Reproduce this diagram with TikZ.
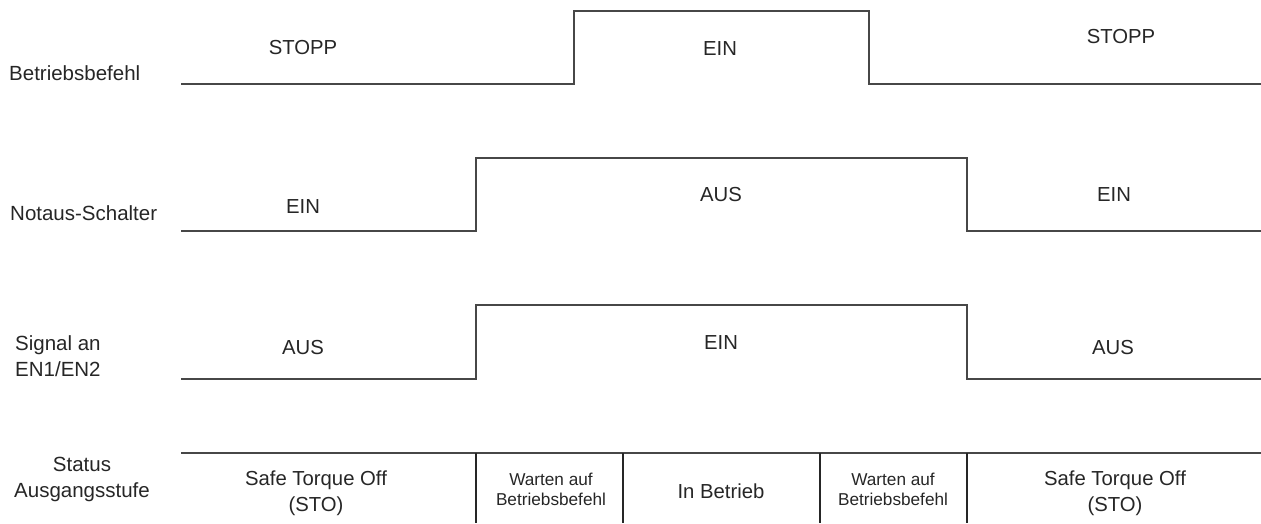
\documentclass[tikz,border=0pt]{standalone}
\usepackage{fontspec}
\setmainfont{Liberation Sans}
\begin{document}
\begin{tikzpicture}[x=1pt,y=-1pt,
  wave/.style={draw=black!72,line width=1.6pt},
  divider/.style={draw=black!85,line width=1.3pt},
  lbl/.style={inner sep=0pt,font=\fontsize{20.5}{26}\selectfont,text=black!85},
  val/.style={inner sep=0pt,font=\fontsize{20.3}{26}\selectfont,text=black!85,align=center},
  small/.style={inner sep=0pt,font=\fontsize{17.2}{20}\selectfont,text=black!85,align=center}]
\useasboundingbox (0,0) rectangle (1261,523);

% row labels
\node[lbl,anchor=west] (lb1) at (9,73) {Betriebsbefehl};
\node[lbl,anchor=west] (lb2) at (10,213) {Notaus-Schalter};
\node[lbl,anchor=west,align=left] (lb3) at (15,356) {Signal an\\EN1/EN2};
\node[lbl,align=center] (lb4) at (82,479) {Status\\Ausgangsstufe};

% Betriebsbefehl waveform
\coordinate (a0) at (181,84);
\coordinate (a1) at (574,84);
\coordinate (a2) at (574,11);
\coordinate (a3) at (869,11);
\coordinate (a4) at (869,84);
\coordinate (a5) at (1261,84);
\draw[wave] (a0) -- (a1) -- (a2) -- (a3) -- (a4) -- (a5);
\node[val] (t1) at (303,48) {STOPP};
\node[val] (t2) at (720,49) {EIN};
\node[val] (t3) at (1121,37) {STOPP};

% Notaus-Schalter waveform
\coordinate (b0) at (181,231);
\coordinate (b1) at (476,231);
\coordinate (b2) at (476,158);
\coordinate (b3) at (967,158);
\coordinate (b4) at (967,231);
\coordinate (b5) at (1261,231);
\draw[wave] (b0) -- (b1) -- (b2) -- (b3) -- (b4) -- (b5);
\node[val] (n1) at (303,207) {EIN};
\node[val] (n2) at (721,195) {AUS};
\node[val] (n3) at (1114,195) {EIN};

% Signal an EN1/EN2 waveform
\coordinate (c0) at (181,379);
\coordinate (c1) at (476,379);
\coordinate (c2) at (476,305);
\coordinate (c3) at (967,305);
\coordinate (c4) at (967,379);
\coordinate (c5) at (1261,379);
\draw[wave] (c0) -- (c1) -- (c2) -- (c3) -- (c4) -- (c5);
\node[val] (s1) at (303,348) {AUS};
\node[val] (s2) at (721,343) {EIN};
\node[val] (s3) at (1113,348) {AUS};

% Status row
\coordinate (d0) at (181,453);
\coordinate (d5) at (1261,453);
\draw[wave] (d0) -- (d5);
\foreach \x/\n in {476/p1,623/p2,820/p3,967/p4}{
  \coordinate (\n t) at (\x,453);
  \coordinate (\n b) at (\x,523);
  \draw[divider] (\n t) -- (\n b);
}
\node[val] (st1) at (316,493) {Safe Torque Off\\(STO)};
\node[small] (st2) at (551,489) {Warten auf\\Betriebsbefehl};
\node[val] (st3) at (721,491) {In Betrieb};
\node[small] (st4) at (893,489) {Warten auf\\Betriebsbefehl};
\node[val] (st5) at (1115,493) {Safe Torque Off\\(STO)};
\end{tikzpicture}
\end{document}
